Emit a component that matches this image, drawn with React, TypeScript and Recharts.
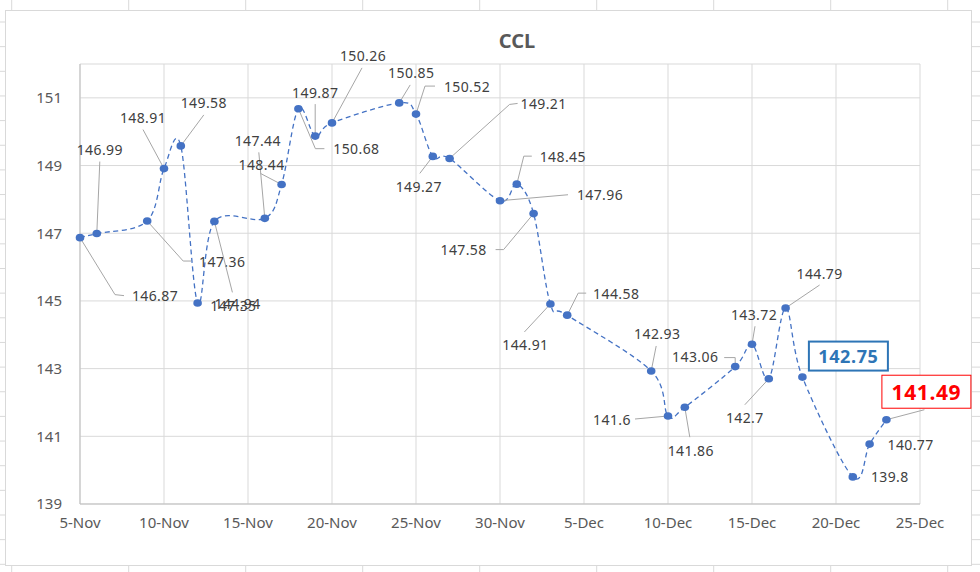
import React from 'react';
import { LineChart, Line, XAxis, YAxis, CartesianGrid } from 'recharts';

// ---------- data ----------
const dates = [
  '2020-11-05', '2020-11-06', '2020-11-09', '2020-11-10', '2020-11-11', '2020-11-12', '2020-11-13',
  '2020-11-16', '2020-11-17', '2020-11-18', '2020-11-19', '2020-11-20', '2020-11-24', '2020-11-25',
  '2020-11-26', '2020-11-27', '2020-11-30', '2020-12-01', '2020-12-02', '2020-12-03', '2020-12-04',
  '2020-12-09', '2020-12-10', '2020-12-11', '2020-12-14', '2020-12-15', '2020-12-16', '2020-12-17',
  '2020-12-18', '2020-12-21', '2020-12-22', '2020-12-23',
];
const cclValues = [
  146.87, 146.99, 147.36, 148.91, 149.58, 144.94, 147.35,
  147.44, 148.44, 150.68, 149.87, 150.26, 150.85, 150.52,
  149.27, 149.21, 147.96, 148.45, 147.58, 144.91, 144.58,
  142.93, 141.6, 141.86, 143.06, 143.72, 142.7, 144.79,
  142.75, 139.8, 140.77, 141.49,
];
const xTickDates = [
  '2020-11-05', '2020-11-10', '2020-11-15', '2020-11-20', '2020-11-25', '2020-11-30',
  '2020-12-05', '2020-12-10', '2020-12-15', '2020-12-20', '2020-12-25',
];
const xTickLabels = ['5-Nov', '10-Nov', '15-Nov', '20-Nov', '25-Nov', '30-Nov', '5-Dec', '10-Dec', '15-Dec', '20-Dec', '25-Dec'];
const yTicks = [139, 141, 143, 145, 147, 149, 151];
const chartTitle = 'CCL';

// ---------- helpers ----------
const DAY = 86400000;
const base = Date.parse(xTickDates[0]);
const toDay = (s: string) => Math.round((Date.parse(s) - base) / DAY);
const chartData = dates.map((d, i) => ({ t: toDay(d), v: cclValues[i] }));
const xTicks = xTickDates.map(toDay);

// label placement (text centre offset from point, leader polyline relative to point)
type LL = { dx: number; dy: number; leader?: number[][]; box?: 'blue' | 'red' };
const labelLayout: LL[] = [
  { dx: 75, dy: 58, leader: [[35, 57], [44, 58]] },
  { dx: 3, dy: -84, leader: [[3, -72]] },
  { dx: 75, dy: 40, leader: [[36, 40], [44, 40]] },
  { dx: -21, dy: -51, leader: [[-21, -39]] },
  { dx: 23, dy: -43, leader: [[23, -31]] },
  { dx: 40, dy: 1 },
  { dx: 19, dy: 84, leader: [[18, 71]] },
  { dx: -7, dy: -78, leader: [[-6, -66]] },
  { dx: -20, dy: -20, leader: [[-21, -11]] },
  { dx: 58, dy: 40, leader: [[17, 40], [26, 40]] },
  { dx: 0, dy: -44, leader: [[0, -32]] },
  { dx: 31, dy: -67, leader: [[30, -55]] },
  { dx: 12, dy: -30, leader: [[11, -18]] },
  { dx: 51, dy: -28, leader: [[9, -28], [19, -28]] },
  { dx: -14, dy: 30, leader: [[-13, 17]] },
  { dx: 94, dy: -55, leader: [[60, -54], [68, -55]] },
  { dx: 100, dy: -6, leader: [[68, -6]] },
  { dx: 46, dy: -28, leader: [[7, -28], [15, -28]] },
  { dx: -70, dy: 36, leader: [[-30, 36], [-38, 36]] },
  { dx: -25, dy: 41, leader: [[-26, 28]] },
  { dx: 49, dy: -22, leader: [[11, -22], [19, -22]] },
  { dx: 6, dy: -37, leader: [[5, -25]] },
  { dx: -56, dy: 3, leader: [[-33, 3]] },
  { dx: 6, dy: 43, leader: [[5, 30]] },
  { dx: -40, dy: -10, leader: [[0, -9], [-11, -9]] },
  { dx: 2, dy: -30, leader: [[3, -18]] },
  { dx: -24, dy: 39, leader: [[-24, 26]] },
  { dx: 34, dy: -35, leader: [[34, -23]] },
  { dx: 46, dy: -21, box: 'blue' },
  { dx: 37, dy: 0 },
  { dx: 41, dy: 0 },
  { dx: 40, dy: -28, leader: [[38, -10]], box: 'red' },
];

// Excel-like smoothed curve (Catmull-Rom style Bezier)
const excelCurve: any = (context: any) => {
  let pts: number[][] = [];
  return {
    areaStart() {},
    areaEnd() {},
    lineStart() { pts = []; },
    point(x: number, y: number) { pts.push([+x, +y]); },
    lineEnd() {
      const n = pts.length;
      if (!n) return;
      context.moveTo(pts[0][0], pts[0][1]);
      for (let i = 0; i < n - 1; i++) {
        const p0 = pts[Math.max(0, i - 1)];
        const p1 = pts[i];
        const p2 = pts[i + 1];
        const p3 = pts[Math.min(n - 1, i + 2)];
        const c1x = p1[0] + (p2[0] - p0[0]) / 6;
        const c1y = p1[1] + (p2[1] - p0[1]) / 6;
        const c2x = p2[0] - (p3[0] - p1[0]) / 6;
        const c2y = p2[1] - (p3[1] - p1[1]) / 6;
        context.bezierCurveTo(c1x, c1y, c2x, c2y, p2[0], p2[1]);
      }
    },
  };
};

const FONT = '"Noto Sans", "Open Sans", sans-serif';
const BLUE = '#4472c4';

const renderDot = (props: any) => {
  const { cx, cy, index } = props;
  if (cx == null || cy == null) return <g key={`d-${index}`} />;
  const L = labelLayout[index] || { dx: 0, dy: -15 };
  const tx = cx + L.dx;
  const ty = cy + L.dy;
  const txt = String(cclValues[index]);
  let leader = null;
  if (L.leader) {
    const pts = [[cx, cy], ...L.leader.map(([a, b]) => [cx + a, cy + b])];
    leader = (
      <polyline points={pts.map((p) => p.join(',')).join(' ')} fill="none" stroke="#a6a6a6" strokeWidth={1} />
    );
  }
  let label;
  if (L.box === 'blue') {
    label = (
      <g>
        <rect x={tx - 39.5} y={ty - 14.5} width={79} height={29} fill="#fff" stroke="#2e75b6" strokeWidth={2} />
        <text x={tx} y={ty} textAnchor="middle" dominantBaseline="central" fontFamily={FONT} fontWeight={700} fontSize={18} letterSpacing={0.6} fill="#2e75b6">{txt}</text>
      </g>
    );
  } else if (L.box === 'red') {
    label = (
      <g>
        <rect x={tx - 44.5} y={ty - 16.5} width={89} height={33} fill="#fff" stroke="#ff0000" strokeWidth={1} />
        <text x={tx} y={ty} textAnchor="middle" dominantBaseline="central" fontFamily={FONT} fontWeight={700} fontSize={21} letterSpacing={0.6} fill="#ff0000">{txt}</text>
      </g>
    );
  } else {
    label = (
      <text x={tx} y={ty} textAnchor="middle" dominantBaseline="central" fontFamily={FONT} fontSize={14} letterSpacing={0.4} fill="#404040">{txt}</text>
    );
  }
  return (
    <g key={`d-${index}`}>
      {leader}
      {label}
      <ellipse cx={cx} cy={cy} rx={4.3} ry={3.8} fill={BLUE} />
    </g>
  );
};

const colLines = Array.from({ length: 9 }, (_, k) => 11.7 + 117 * k);
const rowLines = Array.from({ length: 23 }, (_, k) => 22 + 24.65 * k);

export default function App() {
  return (
    <div style={{ position: 'absolute', left: 0, top: 0, width: 980, height: 572, background: '#fff' }}>
      <svg width={980} height={572} style={{ position: 'absolute', left: 0, top: 0 }}>
        {colLines.map((x, i) => (
          <g key={`c${i}`}>
            <line x1={x} x2={x} y1={0} y2={10} stroke="#d9d9d9" />
            <line x1={x} x2={x} y1={566} y2={572} stroke="#d9d9d9" />
          </g>
        ))}
        {rowLines.map((y, i) => (
          <g key={`r${i}`}>
            <line x1={0} x2={5} y1={y} y2={y} stroke="#d9d9d9" />
            <line x1={972} x2={980} y1={y} y2={y} stroke="#d9d9d9" />
          </g>
        ))}
        <rect x={5.5} y={10.5} width={966} height={555} fill="#fff" stroke="#d9d9d9" />
      </svg>
      <div style={{ position: 'absolute', left: 0, top: 0 }}>
        <LineChart
          width={980}
          height={572}
          data={chartData}
          margin={{ top: 64, right: 60, bottom: 38, left: 20 }}
        >
          <text x={517} y={48} textAnchor="middle" fontFamily={FONT} fontWeight={700} fontSize={20} fill="#595959">{chartTitle}</text>
          <CartesianGrid stroke="#d9d9d9" strokeWidth={1} />
          <XAxis
            dataKey="t"
            type="number"
            domain={[xTicks[0], xTicks[xTicks.length - 1]]}
            ticks={xTicks}
            tickFormatter={(v: number) => xTickLabels[xTicks.indexOf(v)] ?? ''}
            height={30}
            tickLine={false}
            tickMargin={7}
            axisLine={{ stroke: '#bfbfbf' }}
            tick={{ fill: '#595959', fontSize: 15, fontFamily: FONT }}
            interval={0}
          />
          <YAxis
            type="number"
            domain={[139, 152]}
            ticks={yTicks}
            width={60}
            tickLine={false}
            tickMargin={12}
            axisLine={{ stroke: '#bfbfbf' }}
            tick={{ fill: '#595959', fontSize: 15, fontFamily: FONT }}
            interval={0}
          />
          <Line
            dataKey="v"
            type={excelCurve}
            stroke={BLUE}
            strokeWidth={1.3}
            strokeDasharray="5 3.5"
            dot={renderDot}
            activeDot={false}
            isAnimationActive={false}
          />
        </LineChart>
      </div>
    </div>
  );
}
